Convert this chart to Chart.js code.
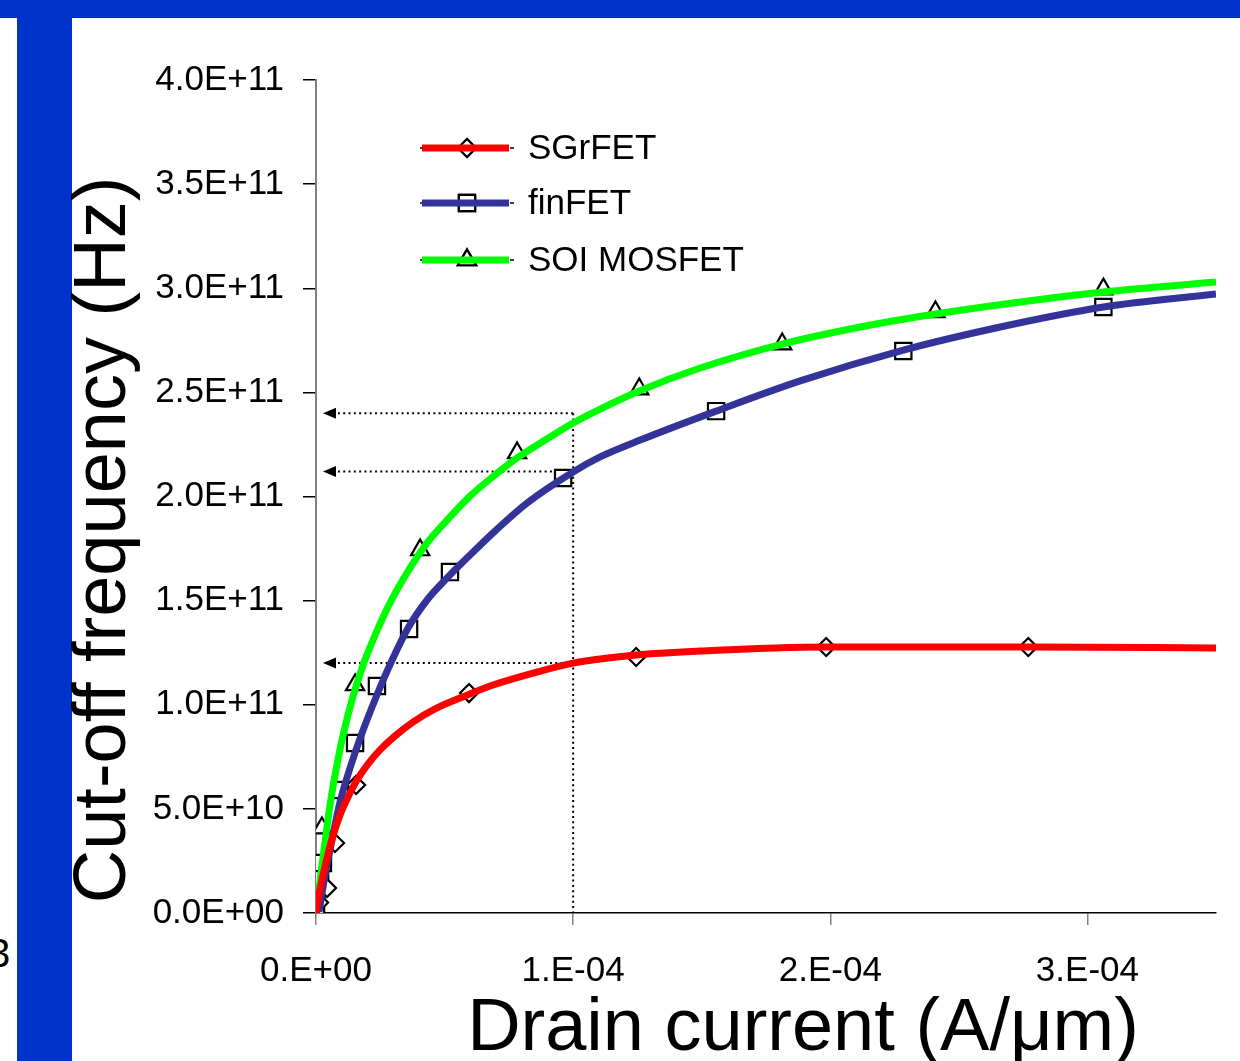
<!DOCTYPE html>
<html>
<head>
<meta charset="utf-8">
<script src="https://cdn.jsdelivr.net/npm/chart.js@4/dist/chart.umd.min.js"></script>
<style>
  html, body { margin: 0; padding: 0; background: #fff; }
  #page { position: relative; width: 1240px; height: 1061px; overflow: hidden; background: #fff; }
  .band-top { position: absolute; left: 0; top: 0; width: 1240px; height: 18px; background: #0033cc; }
  .band-left { position: absolute; left: 17px; top: 0; width: 55px; height: 1061px; background: #0033cc; }
  .edge { position: absolute; left: -12px; top: 931px; font: 40px "Liberation Sans", Arial, sans-serif; color: #000; }
  #wrap { position: absolute; left: 0; top: 0; width: 1240px; height: 1061px; }
</style>
</head>
<body>
<div id="page">
  <div class="band-top"></div>
  <div class="band-left"></div>
  <div class="edge">3</div>
  <div id="wrap"><canvas id="chart"></canvas></div>
</div>
<script>
// ---- series names and colours ----
const seriesNames = ['SGrFET', 'finFET', 'SOI MOSFET'];
const curveColors = ['#ff0000', '#333399', '#00ff00'];
const markerStyles = ['rectRot', 'rect', 'triangle'];
const markerRadius = [9, 11.5, 10.5];

// ---- simulated points (drain current A/um, cut-off frequency Hz) ----
const sgrfetId = [1.2e-6, 4.3e-6, 7.4e-6, 1.56e-5, 5.95e-5, 1.245e-4, 1.984e-4, 2.77e-4];
const sgrfetFt = [5e9, 1.2e10, 3.36e10, 6.15e10, 1.056e11, 1.229e11, 1.277e11, 1.277e11];

const finfetId = [0, 2e-7, 1.6e-6, 2.7e-6, 9.3e-6, 1.52e-5, 2.37e-5, 3.62e-5, 5.21e-5, 9.61e-5, 1.556e-4, 2.284e-4, 3.062e-4];
const finfetFt = [0, 9.6e9, 1.73e10, 2.4e10, 5.91e10, 8.16e10, 1.09e11, 1.364e11, 1.637e11, 2.089e11, 2.41e11, 2.699e11, 2.91e11];

const soiId = [0, 2.3e-6, 1.52e-5, 4.05e-5, 7.82e-5, 1.257e-4, 1.813e-4, 2.409e-4, 3.062e-4];
const soiFt = [0, 4.08e10, 1.095e11, 1.743e11, 2.209e11, 2.516e11, 2.732e11, 2.886e11, 2.996e11];

// ---- fitted curves ----
const sgrfetCurveId = [0, 7.8e-7, 2.33e-6, 4.28e-6, 6.61e-6, 9.34e-6, 1.245e-5, 1.595e-5, 2.02e-5, 2.49e-5, 3.07e-5, 3.77e-5, 4.63e-5, 5.6e-5, 6.77e-5, 8.33e-5, 1e-4, 1.245e-4, 1.494e-4, 1.984e-4, 2.77e-4, 3.5e-4];
const sgrfetCurveFt = [0, 6.24e9, 1.58e10, 2.64e10, 3.7e10, 4.71e10, 5.57e10, 6.39e10, 7.15e10, 7.83e10, 8.5e10, 9.17e10, 9.8e10, 1.032e11, 1.09e11, 1.148e11, 1.2e11, 1.239e11, 1.258e11, 1.277e11, 1.277e11, 1.273e11];

const finfetCurveId = [1.17e-6, 2.33e-6, 3.89e-6, 6.23e-6, 9.34e-6, 1.323e-5, 1.79e-5, 2.37e-5, 2.96e-5, 3.58e-5, 4.32e-5, 5.1e-5, 5.99e-5, 6.96e-5, 8.21e-5, 1e-4, 1.105e-4, 1.261e-4, 1.556e-4, 1.883e-4, 2.284e-4, 2.661e-4, 3.062e-4, 3.5e-4];
const finfetCurveFt = [4.8e8, 9.6e9, 2.06e10, 3.51e10, 5.33e10, 6.96e10, 8.64e10, 1.047e11, 1.215e11, 1.369e11, 1.503e11, 1.609e11, 1.719e11, 1.834e11, 1.969e11, 2.118e11, 2.19e11, 2.271e11, 2.41e11, 2.555e11, 2.703e11, 2.814e11, 2.91e11, 2.972e11];

const soiCurveId = [3.9e-7, 1.17e-6, 2.33e-6, 3.89e-6, 5.45e-6, 7.78e-6, 1.01e-5, 1.4e-5, 1.83e-5, 2.3e-5, 2.88e-5, 3.54e-5, 4.32e-5, 5.1e-5, 5.99e-5, 6.96e-5, 7.82e-5, 8.91e-5, 1e-4, 1.105e-4, 1.257e-4, 1.494e-4, 1.813e-4, 2.117e-4, 2.409e-4, 2.739e-4, 3.062e-4, 3.5e-4];
const soiCurveFt = [2.88e9, 1.1e10, 2.3e10, 3.75e10, 5.19e10, 6.87e10, 8.31e10, 1.023e11, 1.191e11, 1.335e11, 1.489e11, 1.633e11, 1.777e11, 1.887e11, 2.002e11, 2.103e11, 2.185e11, 2.271e11, 2.353e11, 2.42e11, 2.507e11, 2.617e11, 2.732e11, 2.814e11, 2.876e11, 2.934e11, 2.982e11, 3.03e11];

// ---- axis ticks ----
const xTickValues = [0, 1e-4, 2e-4, 3e-4];
const xTickLabels = ['0.E+00', '1.E-04', '2.E-04', '3.E-04'];
const yTickValues = [0, 5e10, 1e11, 1.5e11, 2e11, 2.5e11, 3e11, 3.5e11, 4e11];
const yTickLabels = ['0.0E+00', '5.0E+10', '1.0E+11', '1.5E+11', '2.0E+11', '2.5E+11', '3.0E+11', '3.5E+11', '4.0E+11'];

// ---- read-off guides at Id = 1E-4 ----
const guideCurrent = 1e-4;
const guideLevels = [2.4e11, 2.12e11, 1.2e11];

const FONT = '"Liberation Sans", Arial, sans-serif';
const pts = (xs, ys) => xs.map((x, i) => ({ x: x, y: ys[i] }));

const markerSets = [[sgrfetId, sgrfetFt], [finfetId, finfetFt], [soiId, soiFt]];
const curveSets = [[sgrfetCurveId, sgrfetCurveFt], [finfetCurveId, finfetCurveFt], [soiCurveId, soiCurveFt]];

const datasets = [];
curveSets.forEach((s, i) => {
  datasets.push({
    label: seriesNames[i],
    data: pts(s[0], s[1]),
    showLine: true,
    borderColor: curveColors[i],
    borderWidth: 7,
    pointRadius: 0,
    fill: false,
    cubicInterpolationMode: 'monotone',
    order: 0
  });
});
markerSets.forEach((s, i) => {
  datasets.push({
    label: seriesNames[i] + ' points',
    data: pts(s[0], s[1]),
    showLine: false,
    pointStyle: markerStyles[i],
    pointRadius: markerRadius[i],
    pointBorderColor: '#000',
    pointBorderWidth: 2.2,
    pointBackgroundColor: '#fff',
    order: 1
  });
});

// dotted read-off arrows, drawn beneath the curves
const guides = {
  id: 'guides',
  beforeDatasetsDraw(chart) {
    const { ctx, scales: { x, y }, chartArea } = chart;
    const gx = x.getPixelForValue(guideCurrent);
    ctx.save();
    ctx.strokeStyle = '#000';
    ctx.fillStyle = '#000';
    ctx.lineWidth = 2;
    ctx.setLineDash([2, 3.3]);
    const top = y.getPixelForValue(Math.max(...guideLevels));
    ctx.beginPath();
    ctx.moveTo(gx, top);
    ctx.lineTo(gx, y.getPixelForValue(0));
    ctx.stroke();
    const tip = chartArea.left + 7;
    guideLevels.forEach(v => {
      const gy = y.getPixelForValue(v);
      ctx.setLineDash([2, 3.3]);
      ctx.beginPath();
      ctx.moveTo(gx, gy);
      ctx.lineTo(tip + 12, gy);
      ctx.stroke();
      ctx.setLineDash([]);
      ctx.beginPath();
      ctx.moveTo(tip, gy);
      ctx.lineTo(tip + 13, gy - 5.5);
      ctx.lineTo(tip + 13, gy + 5.5);
      ctx.closePath();
      ctx.fill();
    });
    ctx.restore();
  }
};

// axis titles and legend box
const decorations = {
  id: 'decorations',
  afterDraw(chart) {
    const { ctx } = chart;
    ctx.save();
    ctx.fillStyle = '#000';
    ctx.font = '74px ' + FONT;
    ctx.textAlign = 'center';
    ctx.textBaseline = 'alphabetic';
    ctx.fillText('Drain current (A/\u03bcm)', 803, 1050);
    ctx.save();
    ctx.translate(125, 540);
    ctx.rotate(-Math.PI / 2);
    ctx.fillText('Cut-off frequency (Hz)', 0, 0);
    ctx.restore();

    const rows = [148, 203, 260];
    seriesNames.forEach((name, i) => {
      const ly = rows[i];
      ctx.strokeStyle = '#000';
      ctx.lineWidth = 1.5;
      ctx.setLineDash([6, 4]);
      ctx.beginPath();
      ctx.moveTo(420, ly);
      ctx.lineTo(514, ly);
      ctx.stroke();
      ctx.setLineDash([]);
      ctx.fillStyle = '#fff';
      ctx.lineWidth = 2.2;
      Chart.helpers.drawPoint(ctx, { pointStyle: markerStyles[i], radius: markerRadius[i], borderWidth: 2.2 }, 467, ly);
      ctx.fill();
      ctx.stroke();
      ctx.strokeStyle = curveColors[i];
      ctx.lineWidth = 7;
      ctx.beginPath();
      ctx.moveTo(422, ly);
      ctx.lineTo(509, ly);
      ctx.stroke();
      ctx.fillStyle = '#000';
      ctx.font = '35px ' + FONT;
      ctx.textAlign = 'left';
      ctx.textBaseline = 'middle';
      ctx.fillText(name, 528, ly + 1);
    });
    ctx.restore();
  }
};

new Chart(document.getElementById('chart'), {
  type: 'scatter',
  data: { datasets: datasets },
  plugins: [guides, decorations],
  options: {
    responsive: true,
    maintainAspectRatio: false,
    animation: false,
    events: [],
    layout: { padding: { left: 0, top: 80, right: 24, bottom: 0 } },
    plugins: { legend: { display: false }, tooltip: { enabled: false } },
    scales: {
      x: {
        type: 'linear',
        min: 0,
        max: 3.5e-4,
        afterBuildTicks: s => { s.ticks = xTickValues.map(v => ({ value: v })); },
        afterFit: s => { s.height = 148; },
        ticks: {
          color: '#000',
          font: { family: FONT, size: 35 },
          padding: 25,
          maxRotation: 0,
          autoSkip: false,
          callback: v => { const k = xTickValues.indexOf(v); return k >= 0 ? xTickLabels[k] : ''; }
        },
        grid: { drawOnChartArea: false, drawTicks: true, tickLength: 12, color: '#808080', lineWidth: 1.5 },
        border: { color: '#000', width: 1.5 }
      },
      y: {
        type: 'linear',
        min: 0,
        max: 4e11,
        afterBuildTicks: s => { s.ticks = yTickValues.map(v => ({ value: v })); },
        afterFit: s => { s.width = 316; },
        ticks: {
          color: '#000',
          font: { family: FONT, size: 35 },
          padding: 19,
          autoSkip: false,
          callback: v => { const k = yTickValues.indexOf(v); return k >= 0 ? yTickLabels[k] : ''; }
        },
        grid: { drawOnChartArea: false, drawTicks: true, tickLength: 13, color: '#000', lineWidth: 1.5 },
        border: { color: '#808080', width: 2 }
      }
    }
  }
});
</script>
</body>
</html>
